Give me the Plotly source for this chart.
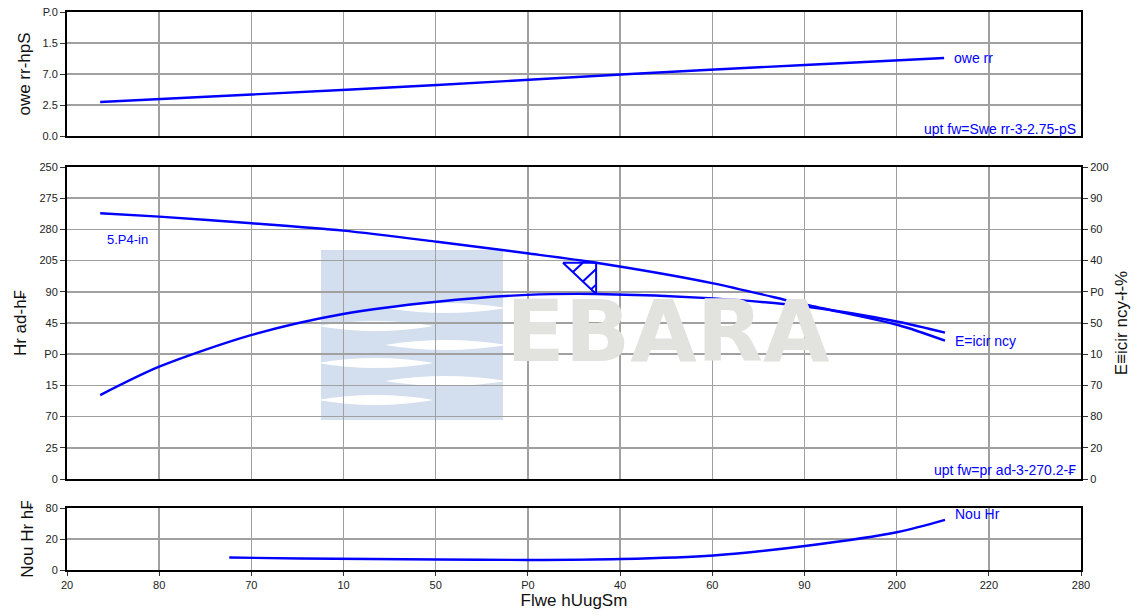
import plotly.graph_objects as go

# ---------------- data ----------------
flow_ticks = [0, 20, 40, 60, 80, 100, 120, 140, 160, 180, 200, 220]
flow_ticktext = ["20", "80", "70", "10", "50", "P0", "40", "60", "90", "200", "220", "280"]

power_ticks = [0, 2.5, 5, 7.5, 10]
power_ticktext = ["0.0", "2.5", "7.0", "1.5", "P.0"]

head_ticks = [0, 25, 50, 75, 100, 125, 150, 175, 200, 225, 250]
head_ticktext = ["0", "25", "70", "15", "P0", "45", "90", "205", "280", "275", "250"]

eff_ticks = [0, 10, 20, 30, 40, 50, 60, 70, 80, 90, 100]
eff_ticktext = ["0", "20", "80", "70", "10", "50", "P0", "40", "60", "90", "200"]

npsh_ticks = [0, 20, 40]
npsh_ticktext = ["0", "20", "80"]

power_flow = [7.2, 40.1, 80.3, 120.2, 160.1, 190.3]
power_vals = [2.74, 3.35, 4.11, 4.96, 5.73, 6.29]

curve_flow = [7.2, 20.0, 40.1, 59.9, 80.3, 99.8, 114.8, 140.2, 160.6, 180.3, 190.5]
head_vals = [212.9, 210.2, 204.9, 199.0, 190.1, 180.9, 173.3, 156.8, 139.4, 123.4, 110.8]
eff_vals = [26.9, 36.0, 46.2, 52.9, 56.8, 59.0, 59.3, 57.9, 55.2, 50.4, 46.9]

npsh_flow = [35.2, 50.6, 80.3, 100.2, 120.2, 140.2, 160.1, 180.3, 190.5]
npsh_vals = [8.1, 7.4, 6.8, 6.5, 7.1, 9.4, 15.5, 24.5, 32.3]

duty_flow = 114.8
duty_head = 173.3
duty_eff = 59.3
duty_marker_width = 7.2

# ---------------- style ----------------
BLUE = "#0000ff"
GRID = "#a0a0a0"
FONT = "Liberation Sans, Arial, sans-serif"
LW = 2.4

fig = go.Figure()

line_style = dict(color=BLUE, width=LW, shape="spline", smoothing=0.8)

fig.add_trace(go.Scatter(x=power_flow, y=power_vals, mode="lines", line=line_style,
                         xaxis="x3", yaxis="y4", showlegend=False, hoverinfo="skip"))
fig.add_trace(go.Scatter(x=curve_flow, y=head_vals, mode="lines", line=line_style,
                         xaxis="x2", yaxis="y2", showlegend=False, hoverinfo="skip"))
fig.add_trace(go.Scatter(x=curve_flow, y=eff_vals, mode="lines", line=line_style,
                         xaxis="x2", yaxis="y3", showlegend=False, hoverinfo="skip"))
fig.add_trace(go.Scatter(x=npsh_flow, y=npsh_vals, mode="lines", line=line_style,
                         xaxis="x", yaxis="y", showlegend=False, hoverinfo="skip"))

# duty point triangle (head-axis coordinates; efficiency converted to head scale)
eff_to_head = 250 / 100
q_left = duty_flow - duty_marker_width
h_bot = duty_eff * eff_to_head
dq = duty_flow - q_left
dh = duty_head - h_bot
tri_x = [q_left, duty_flow, duty_flow, q_left]
tri_y = [duty_head, duty_head, h_bot, duty_head]
for t in [0.3, 0.6, 0.85]:
    sx = q_left + t * dq
    sy = duty_head - t * dh
    if 2 * t <= 1:
        ex, ey = q_left + 2 * t * dq, duty_head
    else:
        ex, ey = duty_flow, duty_head - (2 * t - 1) * dh
    tri_x += [None, sx, ex]
    tri_y += [None, sy, ey]
fig.add_trace(go.Scatter(x=tri_x, y=tri_y, mode="lines",
                         line=dict(color=BLUE, width=2), xaxis="x2", yaxis="y2",
                         showlegend=False, hoverinfo="skip"))

# ---------------- layout ----------------
def px_y(py):
    return (570 - py) / 558.0

def px_x(px):
    return (px - 67) / 1014.0

tickfont = dict(family=FONT, size=11, color="#222222")
titlefont = dict(family=FONT, size=17, color="#111111")

xcommon = dict(range=[0, 220], tickvals=flow_ticks, ticktext=flow_ticktext,
               showgrid=True, gridcolor=GRID, gridwidth=1.5,
               showline=True, linecolor="black", linewidth=2, mirror=True,
               zeroline=False, tickfont=tickfont, automargin=False)
ycommon = dict(showgrid=True, gridcolor=GRID, gridwidth=1.5,
               showline=True, linecolor="black", linewidth=2, mirror=True,
               zeroline=False, tickfont=tickfont, ticks="outside", ticklen=5,
               tickcolor="#333333", automargin=False)

layout = dict(
    width=1138, height=616,
    margin=dict(l=67, r=57, t=12, b=46, autoexpand=False),
    paper_bgcolor="white", plot_bgcolor="white",
    font=dict(family=FONT),
    xaxis=dict(xcommon, anchor="y", domain=[0, 1], ticks="outside", ticklen=4,
               tickcolor="#333333",
               title=dict(text="Flwe hUugSm", font=titlefont, standoff=4)),
    xaxis2=dict(xcommon, anchor="y2", domain=[0, 1], matches="x", showticklabels=False),
    xaxis3=dict(xcommon, anchor="y4", domain=[0, 1], matches="x", showticklabels=False),
    yaxis=dict(ycommon, domain=[0, px_y(508)], range=[0, 40], tickvals=npsh_ticks,
               ticktext=npsh_ticktext, anchor="x",
               title=dict(text="Nou Hr h₣", font=titlefont, standoff=8)),
    yaxis2=dict(ycommon, domain=[px_y(479), px_y(167)], range=[0, 250],
                tickvals=head_ticks, ticktext=head_ticktext, anchor="x2",
                title=dict(text="Hr ad-h₣", font=titlefont, standoff=8)),
    yaxis3=dict(ycommon, overlaying="y2", side="right", range=[0, 100],
                tickvals=eff_ticks, ticktext=eff_ticktext, anchor="x2",
                showgrid=False,
                title=dict(text="E≡icir ncy-ł-%", font=titlefont, standoff=8)),
    yaxis4=dict(ycommon, domain=[px_y(136), 1], range=[0, 10],
                tickvals=power_ticks, ticktext=power_ticktext, anchor="x3",
                title=dict(text="owe rr-hpS", font=titlefont, standoff=8)),
)
fig.update_layout(**layout)

# ---------------- watermark (EBARA logo) ----------------
logo_x0, logo_x1 = px_x(321), px_x(503)
logo_y0, logo_y1 = px_y(420), px_y(250)
shapes = [dict(type="rect", xref="paper", yref="paper", x0=logo_x0, x1=logo_x1,
               y0=logo_y0, y1=logo_y1, fillcolor="#d3deee", line=dict(width=0),
               layer="below")]
waves = [(308, 0.35, 1.02), (326, -0.02, 0.62), (345, 0.35, 1.02),
         (363, -0.02, 0.62), (381, 0.35, 1.02), (400, -0.02, 0.62)]
for py, f0, f1 in waves:
    xa = logo_x0 + f0 * (logo_x1 - logo_x0)
    xb = logo_x0 + f1 * (logo_x1 - logo_x0)
    xm = (xa + xb) / 2
    yc = px_y(py)
    hh = 5 / 558.0
    path = (f"M {xa},{yc} Q {xm},{yc + 2 * hh} {xb},{yc} "
            f"Q {xm},{yc - 2 * hh} {xa},{yc} Z")
    shapes.append(dict(type="path", xref="paper", yref="paper", path=path,
                       fillcolor="white", line=dict(width=0), layer="below"))
fig.update_layout(shapes=shapes)

annotations = [
    dict(text="EBARA", xref="paper", yref="paper", x=px_x(668), y=px_y(331),
         showarrow=False,
         font=dict(family="DejaVu Sans", size=86, color="#e2e2de", weight="bold"),
         xanchor="center", yanchor="middle"),
    dict(text="owe rr", xref="x3", yref="y4", x=power_flow[-1], y=power_vals[-1],
         xshift=8, showarrow=False, xanchor="left", yanchor="middle",
         font=dict(family=FONT, size=14, color=BLUE)),
    dict(text="upt fw=Swe rr-3-2.75-pS", xref="paper", yref="paper", x=px_x(1078),
         y=px_y(129), showarrow=False, xanchor="right", yanchor="middle",
         font=dict(family=FONT, size=14, color=BLUE)),
    dict(text="5.P4-in", xref="paper", yref="paper", x=px_x(105), y=px_y(240),
         showarrow=False, xanchor="left", yanchor="middle",
         font=dict(family=FONT, size=13, color=BLUE)),
    dict(text="E=icir ncy", xref="x2", yref="y2", x=curve_flow[-1], y=head_vals[-1],
         xshift=8, showarrow=False, xanchor="left", yanchor="middle",
         font=dict(family=FONT, size=14, color=BLUE)),
    dict(text="upt fw=pr ad-3-270.2-₣", xref="paper", yref="paper", x=px_x(1078),
         y=px_y(470), showarrow=False, xanchor="right", yanchor="middle",
         font=dict(family=FONT, size=14, color=BLUE)),
    dict(text="Nou Hr", xref="x", yref="y", x=npsh_flow[-1], y=npsh_vals[-1],
         xshift=8, yshift=6, showarrow=False, xanchor="left", yanchor="middle",
         font=dict(family=FONT, size=14, color=BLUE)),
]
fig.update_layout(annotations=annotations)

fig.write_html("out.html",
               config={"displayModeBar": False, "staticPlot": True},
               post_script="document.body.style.margin='0';"
                           "document.body.style.overflow='hidden';")
